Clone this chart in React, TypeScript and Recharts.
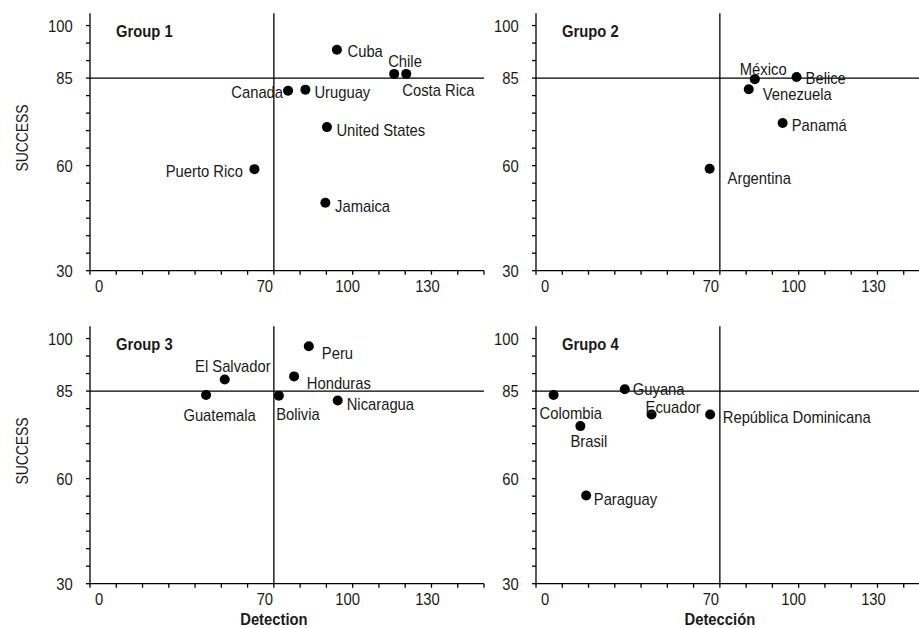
import React from 'react';
import { ScatterChart, Scatter, XAxis, YAxis, ReferenceLine } from 'recharts';

// tick values and the labels shown on them
const X_TICKS = [0, 10, 20, 30, 40, 50, 60, 70, 80, 90, 100, 110, 120, 130, 140, 150];
const X_LABELS = [0, 70, 100, 130];
const Y_TICKS = [30, 35, 40, 45, 50, 55, 60, 65, 70, 75, 80, 85, 90, 95, 100];
const Y_LABELS = [30, 60, 85, 100];

// Group 1
const G1_NAMES = ['Cuba', 'Chile', 'Costa Rica', 'Canada', 'Uruguay', 'United States', 'Puerto Rico', 'Jamaica'];
const G1_DETECTION = [94.0, 115.8, 120.4, 75.4, 82.0, 90.2, 62.6, 89.6];
const G1_SUCCESS = [93.1, 86.2, 86.2, 81.4, 81.7, 71.0, 59.0, 49.4];

// Grupo 2
const G2_NAMES = ['México', 'Belice', 'Venezuela', 'Panamá', 'Argentina'];
const G2_DETECTION = [83.3, 99.2, 81.0, 93.9, 66.1];
const G2_SUCCESS = [84.7, 85.3, 81.8, 72.2, 59.1];

// Group 3
const G3_NAMES = ['Peru', 'El Salvador', 'Honduras', 'Guatemala', 'Bolivia', 'Nicaragua'];
const G3_DETECTION = [83.3, 51.3, 77.7, 44.2, 71.9, 94.3];
const G3_SUCCESS = [97.8, 88.3, 89.2, 83.9, 83.7, 82.3];

// Grupo 4
const G4_NAMES = ['Colombia', 'Guyana', 'Ecuador', 'República Dominicana', 'Brasil', 'Paraguay'];
const G4_DETECTION = [6.7, 33.8, 44.0, 66.3, 16.9, 19.1];
const G4_SUCCESS = [83.9, 85.5, 78.3, 78.3, 75.0, 55.2];

// label placement next to each marker: [dx, dy, anchor]
type LabelPos = [number, number, 'start' | 'end'];
const G1_LABEL_POS: LabelPos[] = [
  [10.6, 1, 'start'], [-6, -13, 'start'], [-4, 16, 'start'], [-5, 1, 'end'],
  [9, 2, 'start'], [9.5, 2.5, 'start'], [-11.5, 2, 'end'], [9.7, 3.5, 'start'],
];
const G2_LABEL_POS: LabelPos[] = [
  [-15, -10, 'start'], [9, 1, 'start'], [14, 5, 'start'], [9, 2, 'start'], [18, 9, 'start'],
];
const G3_LABEL_POS: LabelPos[] = [
  [13, 6.3, 'start'], [-29.7, -13.3, 'start'], [12.7, 6.8, 'start'],
  [-22.7, 19.5, 'start'], [-2.7, 17.8, 'start'], [9, 3.5, 'start'],
];
const G4_LABEL_POS: LabelPos[] = [
  [-14, 18.3, 'start'], [8, 0, 'start'], [-6, -8, 'start'],
  [12.6, 2.4, 'start'], [-10, 14.6, 'start'], [7.6, 3.3, 'start'],
];

// no condensed font installed, so Liberation Sans is squeezed horizontally
const FONT = "'Liberation Sans', Arial, sans-serif";
const SQUEEZE = 0.87;
const FS = 17;
const INK = '#1a1a1a';
// the original tick labels sit a little off their ticks
const X_LABEL_NUDGE: Record<number, number> = { 0: 9, 70: -9, 100: -5, 130: -4 };

const buildPoints = (names: string[], xs: number[], ys: number[], pos: LabelPos[]) =>
  names.map((name, i) => ({ name, x: xs[i], y: ys[i], dx: pos[i][0], dy: pos[i][1], anchor: pos[i][2] }));

interface NTextProps {
  x: number;
  y: number;
  anchor?: 'start' | 'middle' | 'end';
  size?: number;
  bold?: boolean;
  rotate?: number;
  dy?: string;
  children: React.ReactNode;
}

const NText = ({ x, y, anchor = 'start', size = FS, bold, rotate = 0, dy, children }: NTextProps) => (
  <text
    transform={`translate(${x}, ${y}) rotate(${rotate}) scale(${SQUEEZE}, 1)`}
    x={0}
    y={0}
    dy={dy}
    textAnchor={anchor}
    fontSize={size}
    fontWeight={bold ? 'bold' : 'normal'}
    fontFamily={FONT}
    fill={INK}
  >
    {children}
  </text>
);

const Dot = (props: any) => {
  const { cx, cy, payload } = props;
  return (
    <g>
      <circle cx={cx} cy={cy} r={5} fill="#000" />
      <NText x={cx + payload.dx} y={cy + payload.dy + FS * 0.36} anchor={payload.anchor}>
        {payload.name}
      </NText>
    </g>
  );
};

const XTick = (props: any) => {
  const { x, y, payload } = props;
  const v = payload.value;
  if (!X_LABELS.includes(v)) return null;
  return (
    <NText x={x + (X_LABEL_NUDGE[v] || 0)} y={y} dy="0.71em" anchor="middle">
      {v}
    </NText>
  );
};

const YTick = (props: any) => {
  const { x, y, payload } = props;
  const v = payload.value;
  if (!Y_LABELS.includes(v)) return null;
  return (
    <NText x={x} y={y} dy="0.355em" anchor="end">
      {v}
    </NText>
  );
};

const YTitle = (props: any) => {
  const { x, y, height } = props.viewBox;
  return (
    <NText x={x + 28} y={y + height / 2 - 4} anchor="middle" rotate={-90} size={FS - 1}>
      SUCCESS
    </NText>
  );
};

const makeXTitle = (title: string) => (props: any) => {
  const { x, y, width } = props.viewBox;
  return (
    <NText x={x + width * (70 / 150)} y={y + 41.5} anchor="middle" bold>
      {title}
    </NText>
  );
};

interface PanelProps {
  left: number;
  top: number;
  title: string;
  data: ReturnType<typeof buildPoints>;
  yTitle?: boolean;
  xTitle?: string;
}

const Panel = ({ left, top, title, data, yTitle, xTitle }: PanelProps) => (
  <div style={{ position: 'absolute', left, top }}>
    <ScatterChart width={500} height={315} margin={{ top: 13.3, right: 16, bottom: 0, left: 0 }}>
      <XAxis
        type="number"
        dataKey="x"
        domain={[0, 150]}
        allowDataOverflow
        ticks={X_TICKS}
        interval={0}
        tickSize={4}
        tickMargin={5.3}
        height={44.3}
        tick={<XTick />}
        axisLine={{ stroke: '#000', strokeWidth: 1.3 }}
        tickLine={{ stroke: '#000', strokeWidth: 1.3 }}
        label={xTitle ? { content: makeXTitle(xTitle) } : undefined}
      />
      <YAxis
        type="number"
        dataKey="y"
        domain={[30, 103.5]}
        allowDataOverflow
        ticks={Y_TICKS}
        interval={0}
        width={90}
        tickSize={4}
        tickMargin={13.3}
        tick={<YTick />}
        axisLine={{ stroke: '#000', strokeWidth: 1.3 }}
        tickLine={{ stroke: '#000', strokeWidth: 1.3 }}
        label={yTitle ? { content: YTitle } : undefined}
      />
      <ReferenceLine x={70} stroke="#000" strokeWidth={1.3} />
      <ReferenceLine y={85} stroke="#000" strokeWidth={1.3} />
      <Scatter data={data} shape={<Dot />} isAnimationActive={false} />
      <NText x={116} y={37.3} bold>
        {title}
      </NText>
    </ScatterChart>
  </div>
);

const App = () => {
  const g1 = buildPoints(G1_NAMES, G1_DETECTION, G1_SUCCESS, G1_LABEL_POS);
  const g2 = buildPoints(G2_NAMES, G2_DETECTION, G2_SUCCESS, G2_LABEL_POS);
  const g3 = buildPoints(G3_NAMES, G3_DETECTION, G3_SUCCESS, G3_LABEL_POS);
  const g4 = buildPoints(G4_NAMES, G4_DETECTION, G4_SUCCESS, G4_LABEL_POS);

  return (
    <div style={{ position: 'absolute', left: 0, top: 0, width: 919, height: 628, overflow: 'hidden', background: '#fff' }}>
      <Panel left={0} top={0} title="Group 1" data={g1} yTitle />
      <Panel left={445.7} top={0} title="Grupo 2" data={g2} />
      <Panel left={0} top={313.4} title="Group 3" data={g3} yTitle xTitle="Detection" />
      <Panel left={445.7} top={313.4} title="Grupo 4" data={g4} xTitle="Detección" />
    </div>
  );
};

export default App;
